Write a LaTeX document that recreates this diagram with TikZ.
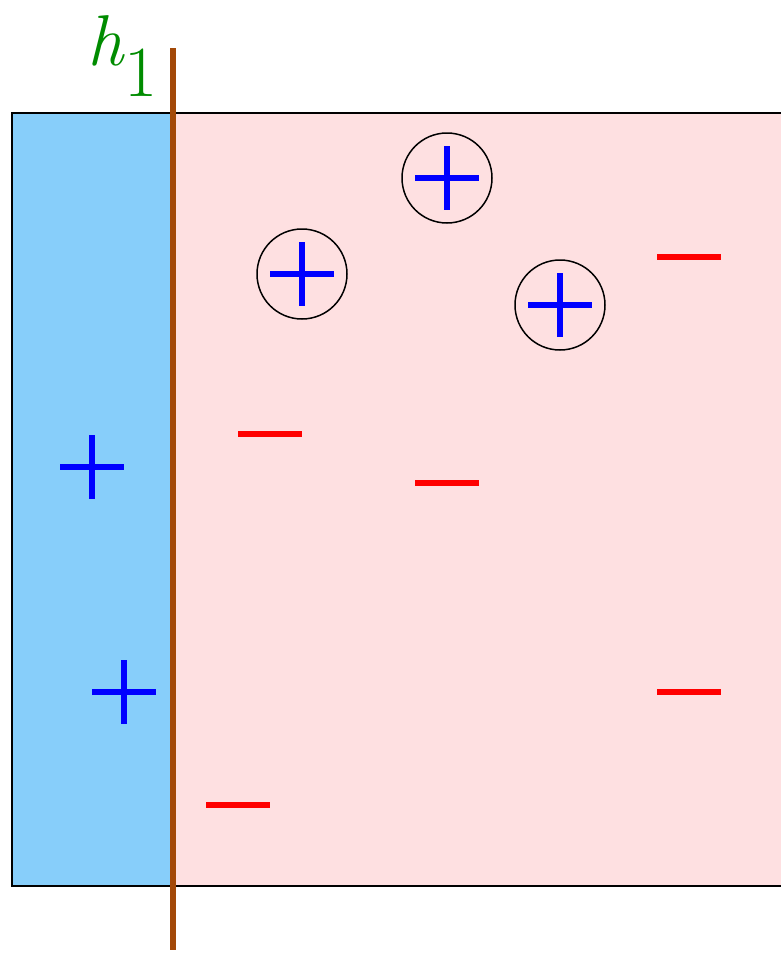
\documentclass[tikz,border=0pt]{standalone}
\usepackage{tikz}
\usetikzlibrary{positioning,calc}

\definecolor{skyfill}{RGB}{135,206,250}
\definecolor{pinkfill}{RGB}{254,224,225}
\definecolor{cutbrown}{RGB}{163,73,8}
\definecolor{labgreen}{RGB}{0,140,0}

\begin{document}
\begin{tikzpicture}[
  x=1pt, y=-1pt,
  posmark/.style={minimum size=64pt, inner sep=0pt,
              path picture={\draw[blue, line width=6pt]
                (path picture bounding box.north) -- (path picture bounding box.south)
                (path picture bounding box.west) -- (path picture bounding box.east);}},
  negmark/.style={fill=red, minimum width=64pt, minimum height=6pt, inner sep=0pt},
  ring/.style={draw=black, line width=1.5pt},
]
\useasboundingbox (0,0) rectangle (780,953);

% regions
\fill[pinkfill] (173,113) rectangle (800,886);
\fill[skyfill] (12,113) rectangle (173,886);
\draw[line width=1.5pt] (800,113) -- (12,113) -- (12,886) -- (800,886);

% positive points
\node[posmark] (p1) at (92,467) {};
\node[posmark] (p2) at (124,692) {};
\node[posmark] (p3) at (302,274) {};
\node[posmark] (p4) at (447,178) {};
\node[posmark] (p5) at (560,305) {};
\draw[ring] (p3.center) circle[radius=45];
\draw[ring] (p4.center) circle[radius=45];
\draw[ring] (p5.center) circle[radius=45];

% negative points
\node[negmark] (n1) at (270,434) {};
\node[negmark] (n2) at (447,483) {};
\node[negmark] (n3) at (689,257) {};
\node[negmark] (n4) at (689,692) {};
\node[negmark] (n5) at (238,805) {};

% split
\coordinate (htop) at (173,48);
\coordinate (hbot) at (173,950);
\draw[cutbrown, line width=6pt] (htop) -- (hbot);
\node[labgreen, anchor=base east, inner sep=0pt, font=\fontsize{72}{80}\selectfont]
  (hlab) at (158,65) {\textit{h}\raisebox{-0.44em}{1}};
\end{tikzpicture}
\end{document}
